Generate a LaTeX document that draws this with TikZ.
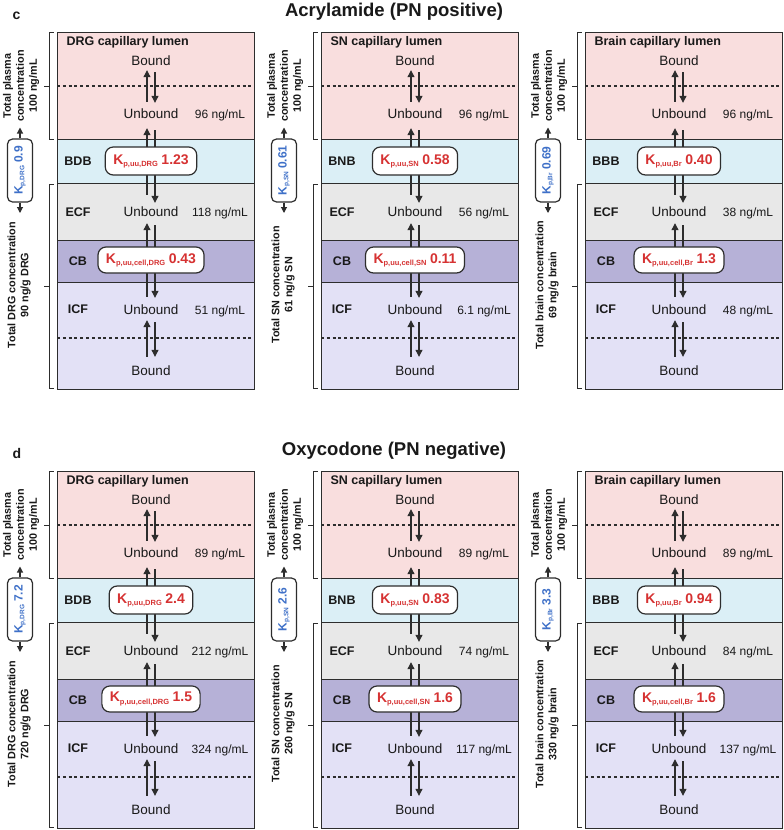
\documentclass[tikz,border=0pt]{standalone}
\usepackage{fontspec}
\setmainfont{Liberation Sans}
\usetikzlibrary{arrows.meta}
\definecolor{pinkL}{RGB}{249,222,222}
\definecolor{blueL}{RGB}{219,239,246}
\definecolor{greyL}{RGB}{232,232,232}
\definecolor{cbL}{RGB}{182,177,215}
\definecolor{icfL}{RGB}{227,225,246}
\definecolor{kred}{RGB}{214,50,50}
\definecolor{kblue}{RGB}{62,112,200}
\definecolor{ink}{RGB}{45,45,45}
\definecolor{txt}{RGB}{25,25,25}
\newcommand\ngmL{ng/mL}
\newcommand\nggR{ng/g}
\newcommand\KuuTxt[2]{{\bfseries\fontsize{14}{14}\selectfont K\raisebox{-2.2pt}{\fontsize{7.5}{7.5}\selectfont p,uu,#1}\hspace{3.5pt}#2}}
\newcommand\KpTxt[2]{{\bfseries\fontsize{12}{12}\selectfont K\raisebox{-1.8pt}{\fontsize{6.5}{6.5}\selectfont p,#1}\hspace{3pt}#2}}
\begin{document}
\begin{tikzpicture}[x=1pt,y=-1pt,
  layer/.style={draw=ink, line width=0.9pt},
  dotl/.style={draw=ink, line width=2pt, dash pattern=on 3pt off 2.8pt},
  arr/.style={draw=ink, line width=1.1pt, -{Triangle[length=7pt,width=7pt]}},
  arrs/.style={draw=ink, line width=1.1pt, -{Triangle[length=6pt,width=6pt]}},
  ubt/.style={font=\fontsize{13.5}{13.5}\selectfont, text=txt, inner sep=1pt, text height=9.5pt, text depth=2.5pt, anchor=base},
  valt/.style={font=\fontsize{12}{12}\selectfont, text=txt, anchor=base},
  lbl/.style={font=\bfseries\fontsize{12.5}{12.5}\selectfont, text=txt, anchor=base},
  kbox/.style={draw=ink, line width=1.2pt, fill=white, rounded corners=8pt, text=kred, inner xsep=8pt, inner ysep=0pt},
  kpbox/.style={draw=ink, line width=1.2pt, fill=white, rounded corners=5pt, text=kblue, rotate=90, minimum width=63pt, minimum height=25pt, inner sep=0pt},
  vlab/.style={font=\bfseries\fontsize{10.8}{13}\selectfont, align=center, rotate=90, text=txt},
  brk/.style={draw=ink, line width=0.9pt},
  ttl/.style={font=\bfseries\fontsize{18.5}{18.5}\selectfont, text=txt, anchor=base},
  plab/.style={font=\bfseries\fontsize{14}{14}\selectfont, text=txt, anchor=base west}
]
\useasboundingbox (0,0) rectangle (784,830);
\fill[white] (0,0) rectangle (784,830);

\node[plab] (lc) at (9,19) {c};
\node[ttl] (tc) at (394,16) {Acrylamide (PN positive)};
\node[plab] (ld) at (9,458) {d};
\node[ttl] (td) at (394,455) {Oxycodone (PN negative)};

\foreach \pS/\pL/\pN/\pCap/\pBar/\pSub/\pKp/\pKuu/\pKc/\pVa/\pVb/\pVc/\pTa/\pTb in {
 0/57/c1/DRG capillary lumen/BDB/DRG/0.9/1.23/0.43/96/118/51/Total DRG concentration/90 \nggR{} DRG,
 0/321/c2/SN capillary lumen/BNB/SN/0.61/0.58/0.11/96/56/6.1/Total SN concentration/61 \nggR{} SN,
 0/585/c3/Brain capillary lumen/BBB/Br/0.69/0.40/1.3/96/38/48/Total brain concentration/69 \nggR{} brain,
 439/57/d1/DRG capillary lumen/BDB/DRG/7.2/2.4/1.5/89/212/324/Total DRG concentration/720 \nggR{} DRG,
 439/321/d2/SN capillary lumen/BNB/SN/2.6/0.83/1.6/89/74/117/Total SN concentration/260 \nggR{} SN,
 439/585/d3/Brain capillary lumen/BBB/Br/3.3/0.94/1.6/89/84/137/Total brain concentration/330 \nggR{} brain}{
\begin{scope}[shift={(0,\pS)}]
  % layers
  \path[layer, fill=pinkL] (\pL,32) rectangle (\pL+197,139);
  \path[layer, fill=blueL] (\pL,139) rectangle (\pL+197,183.5);
  \path[layer, fill=greyL] (\pL,183.5) rectangle (\pL+197,240);
  \path[layer, fill=cbL] (\pL,240) rectangle (\pL+197,282);
  \path[layer, fill=icfL] (\pL,282) rectangle (\pL+197,389);
  \draw[dotl] (\pL,86) -- (\pL+197,86);
  \draw[dotl] (\pL,338) -- (\pL+197,338);
  % texts
  \node[lbl, anchor=base west] (\pN-cap) at (\pL+6,45.5) {\pCap};
  \node[ubt] (\pN-b1) at (\pL+94,65.5) {Bound};
  \node[ubt] (\pN-u1) at (\pL+94,118.5) {Unbound};
  \node[ubt] (\pN-u2) at (\pL+94,216.5) {Unbound};
  \node[ubt] (\pN-u3) at (\pL+94,314) {Unbound};
  \node[ubt] (\pN-b2) at (\pL+94,375) {Bound};
  \node[valt] (\pN-va) at (\pL+163,118.5) {\pVa\ \ngmL};
  \node[valt] (\pN-vb) at (\pL+163,216.5) {\pVb\ \ngmL};
  \node[valt] (\pN-vc) at (\pL+163,314) {\pVc\ \ngmL};
  \node[lbl] (\pN-bar) at (\pL+21,165.5) {\pBar};
  \node[lbl] (\pN-ecf) at (\pL+21,216.5) {ECF};
  \node[lbl] (\pN-cb) at (\pL+21,265) {CB};
  \node[lbl] (\pN-icf) at (\pL+21,313.5) {ICF};
  % arrows
  \draw[arr, shorten <=6pt, shorten >=1pt] ([xshift=-4pt]\pN-u1.north) -- ([xshift=-4pt]\pN-b1.south);
  \draw[arr, shorten <=3pt, shorten >=5pt] ([xshift=4pt]\pN-b1.south) -- ([xshift=4pt]\pN-u1.north);
  \draw[arr, shorten <=11pt, shorten >=6pt] ([xshift=-4pt]\pN-u2.north) -- ([xshift=-4pt]\pN-u1.south);
  \draw[arr, shorten <=8pt, shorten >=3pt] ([xshift=4pt]\pN-u1.south) -- ([xshift=4pt]\pN-u2.north);
  \draw[arr, shorten <=6.5pt, shorten >=3pt] ([xshift=-4pt]\pN-u3.north) -- ([xshift=-4pt]\pN-u2.south);
  \draw[arr, shorten <=5pt, shorten >=5.5pt] ([xshift=4pt]\pN-u2.south) -- ([xshift=4pt]\pN-u3.north);
  \draw[arr, shorten <=7.5pt, shorten >=2.5pt] ([xshift=-4pt]\pN-b2.north) -- ([xshift=-4pt]\pN-u3.south);
  \draw[arr, shorten <=4.5pt, shorten >=7.5pt] ([xshift=4pt]\pN-u3.south) -- ([xshift=4pt]\pN-b2.north);
  % K boxes
  \node[kbox, minimum height=28pt] (\pN-k1) at (\pL+94,161) {\KuuTxt{\pSub}{\pKuu}};
  \node[kbox, minimum height=26pt] (\pN-k2) at (\pL+94,260) {\KuuTxt{cell,\pSub}{\pKc}};
  % Kp box
  \node[kpbox] (\pN-kp) at (\pL-37,170.5) {\KpTxt{\pSub}{\pKp}};
  \coordinate (\pN-kpu) at (\pL-37,127.5);
  \coordinate (\pN-kpd) at (\pL-37,213);
  \draw[arrs] (\pN-kp.east) -- (\pN-kpu);
  \draw[arrs] (\pN-kp.west) -- (\pN-kpd);
  % brackets
  \draw[brk] (\pL-3.5,32.5) -- (\pL-7.5,32.5) -- (\pL-7.5,139) -- (\pL-3.5,139);
  \draw[brk] (\pL-7.5,86) -- (\pL-13,86);
  \draw[brk] (\pL-3.5,184) -- (\pL-7.5,184) -- (\pL-7.5,388.5) -- (\pL-3.5,388.5);
  \draw[brk] (\pL-7.5,286) -- (\pL-13,286);
  % vertical labels
  \node[vlab] (\pN-pl) at (\pL-36,86) {Total plasma\\concentration\\100 \ngmL};
  \node[vlab] (\pN-ts) at (\pL-38,285) {\pTa\\\pTb};
\end{scope}
}
\end{tikzpicture}
\end{document}
